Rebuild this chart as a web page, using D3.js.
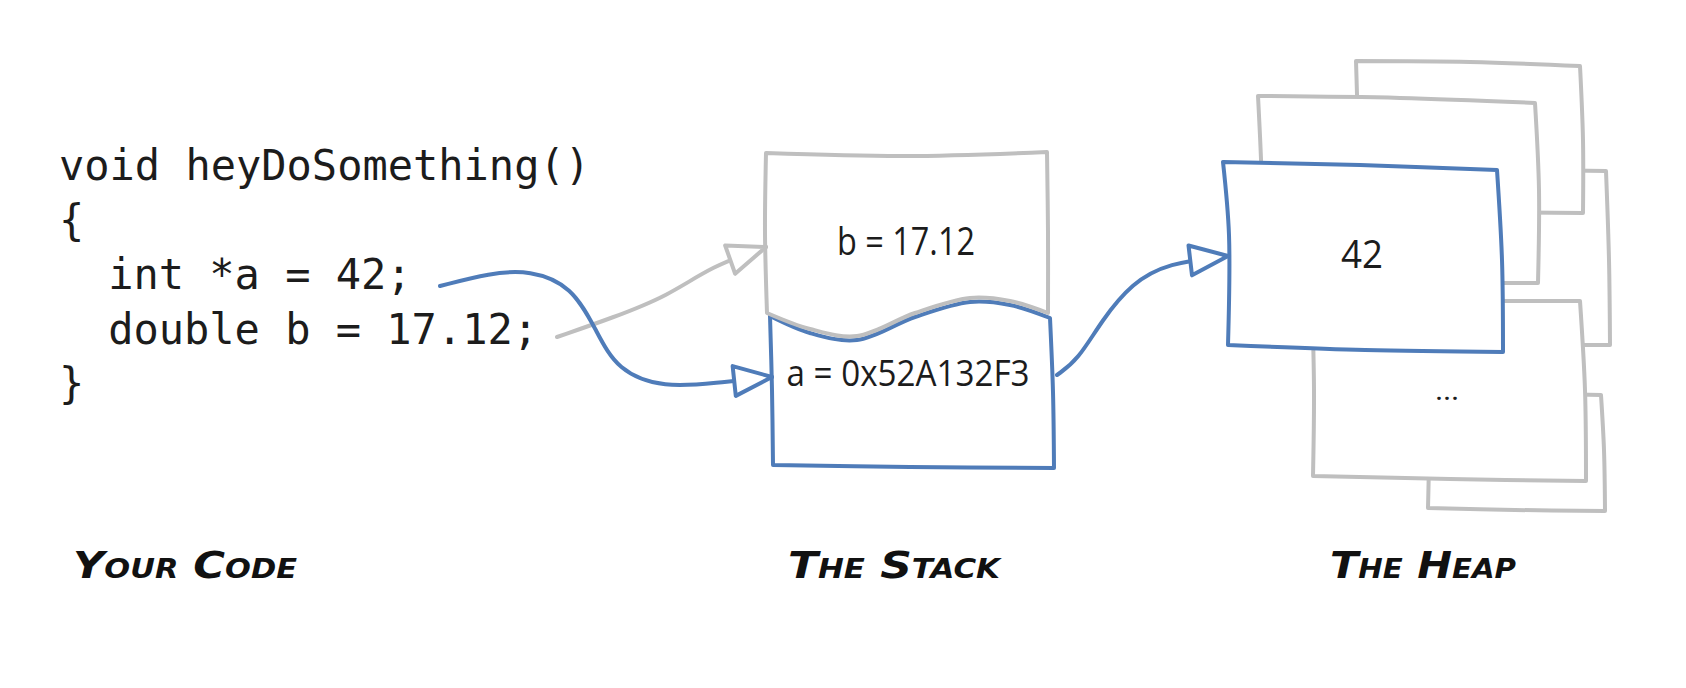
<!DOCTYPE html>
<html>
<head>
<meta charset="utf-8">
<script src="https://cdn.jsdelivr.net/npm/d3@7"></script>
<style>
  html, body { margin: 0; padding: 0; background: #fff; }
</style>
</head>
<body>
<div id="chartArea"></div>
<script>
// code lines on the left
var codeLines = [
    { text: 'void heyDoSomething()', indent: 0 },
    { text: '{', indent: 0 },
    { text: 'int *a = 42;', indent: 2 },
    { text: 'double b = 17.12;', indent: 2 },
    { text: '}', indent: 0 }
];

var titles = ['Your Code', 'The Stack', 'The Heap'];

var stackValues = ['b = 17.12', 'a = 0x52A132F3'];
var heapValues = ['42', '...'];

// outlines, each edge is [start, mid, end]
var backSheets = [
    // C
    [[[1420, 170], [1515, 170], [1606, 171]], [[1606, 171], [1609, 260], [1610, 345]], [[1610, 345], [1515, 345], [1420, 345]], [[1420, 345], [1420, 260], [1420, 170]]],
    // E
    [[[1428, 395], [1515, 394], [1601, 395]], [[1601, 395], [1604, 450], [1605, 511]], [[1605, 511], [1515, 510], [1428, 508]], [[1428, 508], [1429, 450], [1428, 395]]],
    // A
    [[[1356, 61], [1470, 62], [1580, 66]], [[1580, 66], [1583, 140], [1583, 213]], [[1583, 213], [1470, 212], [1358, 210]], [[1358, 210], [1358, 140], [1356, 61]]],
    // B
    [[[1258, 96], [1400, 98], [1535, 103]], [[1535, 103], [1539, 190], [1538, 283]], [[1538, 283], [1400, 283], [1262, 282]], [[1262, 282], [1262, 190], [1258, 96]]],
    // D
    [[[1312, 300], [1450, 301], [1580, 301]], [[1580, 301], [1585, 390], [1586, 481]], [[1586, 481], [1450, 479], [1313, 476]], [[1313, 476], [1314, 390], [1312, 300]]]
];

var heapBox = [
    [[1223, 162], [1360, 165], [1497, 170]],
    [[1497, 170], [1502, 260], [1503, 352]],
    [[1503, 352], [1365, 350], [1228, 345]],
    [[1228, 345], [1229, 235], [1223, 162]]
];

var stackLower = [
    [[770, 316], [810, 333], [857, 340], [915, 317], [970, 302], [1010, 305], [1050, 318]],
    [[1050, 318], [1053, 392], [1054, 468]],
    [[1054, 468], [910, 467], [773, 465]],
    [[773, 465], [772, 390], [770, 316]]
];

var stackUpper = [
    [[766, 153], [905, 156], [1047, 152]],
    [[1047, 152], [1048, 232], [1048, 313]],
    [[1048, 313], [1010, 301], [970, 298], [915, 313], [857, 336], [810, 329], [767, 313]],
    [[767, 313], [765, 232], [766, 153]]
];

var arrows = [
    { color: 'gray', pts: [[557, 337], [612, 318], [668, 296], [712, 266], [766, 247]] },
    { color: 'blue', pts: [[440, 286], [490, 273], [530, 270], [572, 286], [596, 330], [617, 371], [665, 388], [715, 383], [772, 377]] },
    { color: 'blue', pts: [[1057, 375], [1078, 360], [1102, 320], [1132, 283], [1168, 263], [1228, 256]] }
];

var colors = { blue: '#4f7cb9', gray: '#bfbfbf', ink: '#1c1c1c' };

var w = 1686, h = 688;

var svg = d3.select('#chartArea').append('svg')
    .attr('width', w)
    .attr('height', h)
    .style('display', 'block');

svg.append('rect').attr('width', w).attr('height', h).attr('fill', '#fff');

var edgeLine = d3.line().curve(d3.curveCatmullRom.alpha(0.5));

function outline(edges) {
    return edges.map(function(e, i) {
        var s = edgeLine(e);
        return i === 0 ? s : s.replace(/^M/, 'L');
    }).join('') + 'Z';
}

function drawBox(edges, color) {
    svg.append('path')
        .attr('d', outline(edges))
        .attr('fill', '#fff')
        .attr('stroke', color)
        .attr('stroke-width', 4)
        .attr('stroke-linejoin', 'round')
        .attr('stroke-linecap', 'round');
}

// arrow heads
var defs = svg.append('defs');
['blue', 'gray'].forEach(function(c) {
    defs.append('marker')
        .attr('id', 'head-' + c)
        .attr('viewBox', '-5 -5 50 40')
        .attr('refX', 38)
        .attr('refY', 15)
        .attr('markerWidth', 50)
        .attr('markerHeight', 40)
        .attr('markerUnits', 'userSpaceOnUse')
        .attr('orient', 'auto')
        .append('path')
        .attr('d', 'M0,0L38,15L0,30Z')
        .attr('fill', '#fff')
        .attr('stroke', colors[c])
        .attr('stroke-width', 4)
        .attr('stroke-linejoin', 'round');
});

// heap sheets
backSheets.forEach(function(b) { drawBox(b, colors.gray); });
drawBox(heapBox, colors.blue);

// stack
drawBox(stackLower, colors.blue);
drawBox(stackUpper, colors.gray);

// arrows
var curve = d3.line().curve(d3.curveBasis);
svg.selectAll('path.arrow')
    .data(arrows)
    .enter()
    .append('path')
    .attr('class', 'arrow')
    .attr('d', function(d) { return curve(d.pts); })
    .attr('fill', 'none')
    .attr('stroke', function(d) { return colors[d.color]; })
    .attr('stroke-width', 4)
    .attr('stroke-linecap', 'round')
    .attr('marker-end', function(d) { return 'url(#head-' + d.color + ')'; });

// code
var lineY = d3.scaleLinear().domain([0, 4]).range([180, 398]);
svg.selectAll('text.code')
    .data(codeLines)
    .enter()
    .append('text')
    .attr('class', 'code')
    .attr('x', function(d) { return 59 + d.indent * 24.6; })
    .attr('y', function(d, i) { return lineY(i); })
    .attr('font-family', '"DejaVu Sans Mono", "Liberation Mono", monospace')
    .attr('font-size', 42)
    .attr('fill', colors.ink)
    .attr('xml:space', 'preserve')
    .text(function(d) { return d.text; });

// value labels
function label(t, x, y, size, len) {
    var el = svg.append('text')
        .attr('x', x)
        .attr('y', y)
        .attr('text-anchor', 'middle')
        .attr('font-family', '"Open Sans", Lato, sans-serif')
        .attr('font-size', size)
        .attr('fill', colors.ink)
        .text(t);
    if (len) el.attr('textLength', len).attr('lengthAdjust', 'spacingAndGlyphs');
}
label(stackValues[0], 906, 255, 38, 138);
label(stackValues[1], 908, 386, 36, 243);
label(heapValues[0], 1362, 268, 38, 42);
label(heapValues[1], 1447, 400, 26, 24);

// titles
var titleX = [73, 788, 1330], titleLen = [224, 212, 186];
svg.selectAll('text.title')
    .data(titles)
    .enter()
    .append('text')
    .attr('class', 'title')
    .attr('x', function(d, i) { return titleX[i]; })
    .attr('y', 578)
    .attr('font-family', '"DejaVu Sans", sans-serif')
    .attr('font-weight', 'bold')
    .attr('font-style', 'italic')
    .attr('font-variant', 'small-caps')
    .attr('font-size', 37)
    .attr('fill', '#111')
    .attr('textLength', function(d, i) { return titleLen[i]; })
    .attr('lengthAdjust', 'spacingAndGlyphs')
    .text(function(d) { return d; });
</script>
</body>
</html>
